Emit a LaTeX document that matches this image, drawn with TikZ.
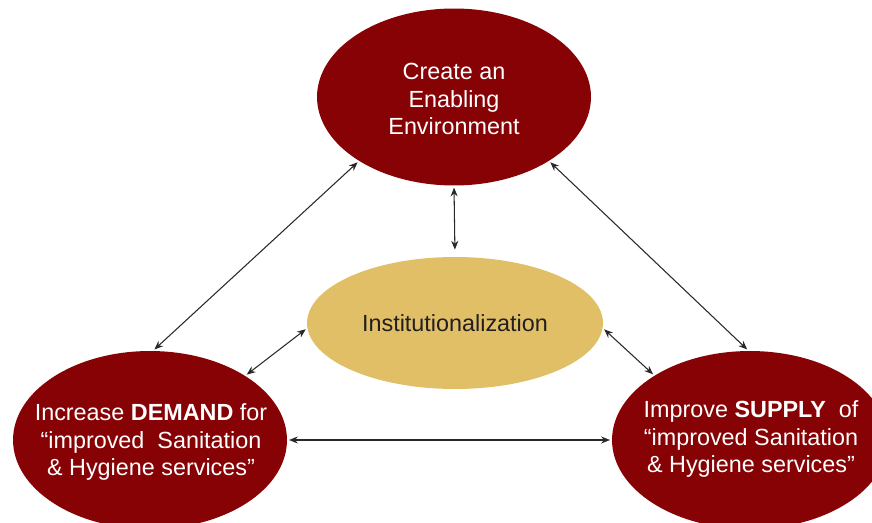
\documentclass[tikz,border=0pt]{standalone}
\usepackage{fontspec}
\setmainfont{Liberation Sans}
\usetikzlibrary{shapes.geometric,arrows.meta}
\definecolor{maroon}{RGB}{135,2,4}
\definecolor{sand}{RGB}{224,191,103}
\definecolor{linkgray}{RGB}{40,40,40}
\definecolor{inktext}{RGB}{35,31,32}

\begin{document}
\begin{tikzpicture}[x=0.02cm,y=-0.02cm,
  blob/.style={ellipse, fill=maroon, inner sep=0pt},
  blobtext/.style={text=white, align=center, font=\fontsize{13.3}{15.6}\selectfont},
  link/.style={{Stealth[length=5pt,width=4pt]}-{Stealth[length=5pt,width=4pt]},
    linkgray, line width=0.6pt, shorten <=1pt, shorten >=1pt}]
  \useasboundingbox (0,0) rectangle (872,523);
  \clip (0,0) rectangle (872,523);

  % the four ellipses
  \node[blob, minimum width=5.48cm, minimum height=3.54cm] (enable) at (454,97) {};
  \node[blob, fill=sand, minimum width=5.92cm, minimum height=2.64cm] (inst) at (455,323) {};
  \node[blob, minimum width=5.48cm, minimum height=3.56cm] (demand) at (150,440) {};
  \node[blob, minimum width=5.52cm, minimum height=3.56cm] (supply) at (750,440) {};

  % texts inside them
  \node[blobtext] (enabletxt) at (454,99) {Create an\\Enabling\\Environment};
  \node[blobtext, text=inktext] (insttxt) at (inst) {Institutionalization};
  \node[blobtext] (demandtxt) at (151,442) {Increase \textbf{DEMAND} for\\“improved\ \ Sanitation\\\& Hygiene services”};
  \node[blobtext] (supplytxt) at (751,439) {Improve \textbf{SUPPLY}\ \ of\\“improved Sanitation\\\& Hygiene services”};

  % two-way links
  \foreach \a/\b in {enable.214/demand.88, enable.326/supply.91, demand.34/inst.182,
                     inst.358/supply.146, demand.east/supply.west}
    \draw[link] (\a) -- (\b);
  \draw[link, shorten >=4pt] (enable.south) -- (inst.north);
\end{tikzpicture}
\end{document}
